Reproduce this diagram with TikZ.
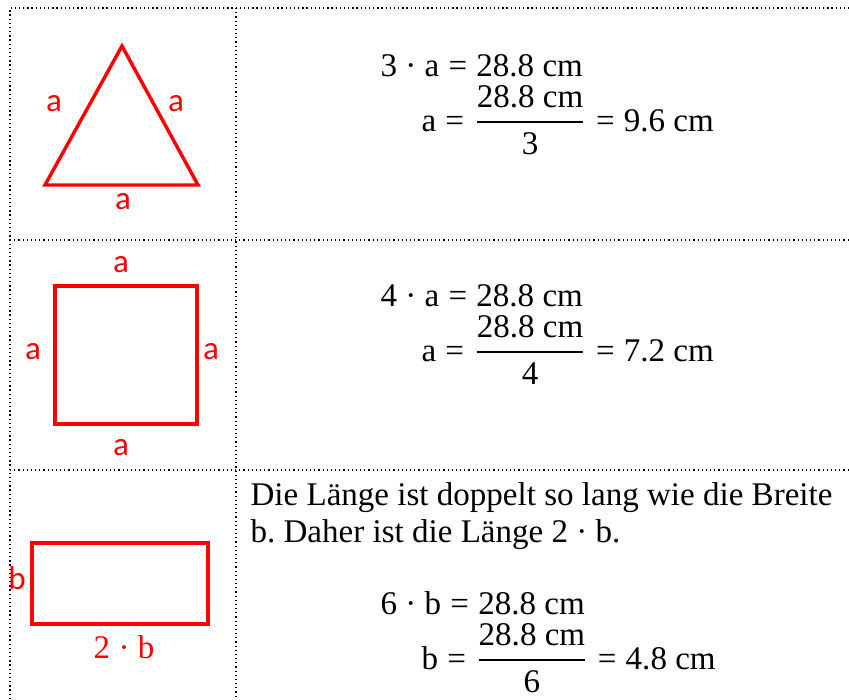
\documentclass[tikz,border=0pt]{standalone}
\usepackage{amsmath}
\usepackage{fontspec}
\setmainfont{Liberation Serif}
\newfontfamily\lblfont{Carlito}
\newcommand{\eqsign}{\hspace{0.28em}=\hspace{0.28em}}
\newcommand{\frc}[2]{$\genfrac{}{}{0.7pt}{0}{\text{#1}}{\text{#2}}$}

\tikzset{
  tbl/.style={densely dotted,line width=0.45pt},
  fig/.style={red,line width=1.2pt},
  lbl/.style={red,inner sep=0pt,font=\lblfont\fontsize{11.5}{14}\selectfont},
  eq/.style={inner sep=0pt,anchor=base west,font=\fontsize{11.5}{14}\selectfont},
}

\begin{document}
\frenchspacing
\begin{tikzpicture}[x=0.348pt,y=-0.348pt]
  \useasboundingbox (0,0) rectangle (849,699);
  \draw[tbl] (10,699)--(10,8)--(849,8);
  \draw[tbl] (236,8)--(236,699);
  \draw[tbl] (10,240)--(849,240);
  \draw[tbl] (10,470)--(849,470);

  \draw[fig] (45,185)--(122,46)--(198,185)--cycle;
  \node[lbl] (triL) at (54,104) {a};
  \node[lbl] (triR) at (176,104) {a};
  \node[lbl] (triB) at (123,202) {a};

  \draw[fig] (55,286) rectangle (197,424);
  \node[lbl] (sqT) at (121,265) {a};
  \node[lbl] (sqL) at (33,352) {a};
  \node[lbl] (sqR) at (211,352) {a};
  \node[lbl] (sqB) at (121,448) {a};

  \draw[fig] (32,543) rectangle (208,624);
  \node[lbl] (recL) at (17,578) {b};
  \node[lbl,font=\fontsize{11.5}{14}\selectfont] (recB) at (124,647) {2 · b};

  \node[eq] (triEq) at (380,76) {3 · a\eqsign 28.8 cm};
  \node[eq] (triSol) at (421,131) {a\eqsign\frc{28.8 cm}{3}\eqsign 9.6 cm};

  \node[eq] (sqEq) at (380,306) {4 · a\eqsign 28.8 cm};
  \node[eq] (sqSol) at (421,361) {a\eqsign\frc{28.8 cm}{4}\eqsign 7.2 cm};

  \node[eq] (recTxtA) at (250,505) {Die Länge ist doppelt so lang wie die Breite};
  \node[eq] (recTxtB) at (250,542) {b. Daher ist die Länge 2 · b.};
  \node[eq] (recEq) at (380,614) {6 · b\eqsign 28.8 cm};
  \node[eq] (recSol) at (421,669) {b\eqsign\frc{28.8 cm}{6}\eqsign 4.8 cm};
\end{tikzpicture}
\end{document}
